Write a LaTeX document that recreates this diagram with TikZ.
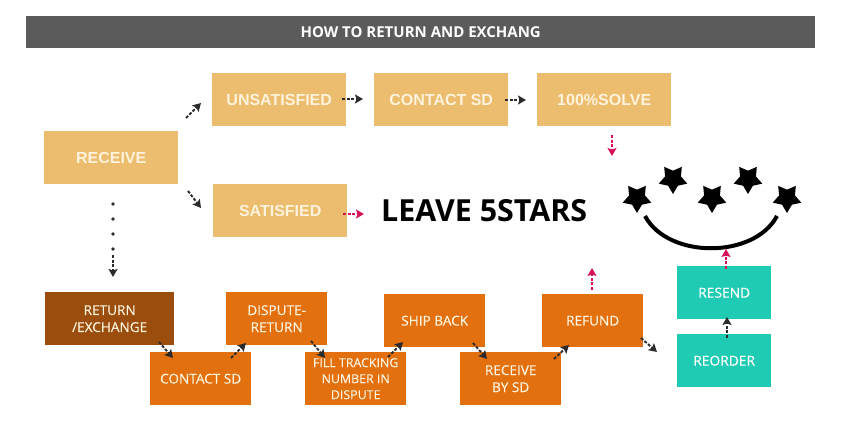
\documentclass[tikz,border=0pt]{standalone}
\usepackage{fontspec}
\setmainfont{Liberation Sans}
\newfontfamily\osans{Open Sans}
\newfontfamily\osansm[FakeBold=0.25]{Open Sans}
\usetikzlibrary{arrows.meta,shapes.geometric}
\definecolor{sand}{HTML}{ECBD6E}
\definecolor{brownbox}{HTML}{9A4D0C}
\definecolor{orangebox}{HTML}{E2700F}
\definecolor{tealbox}{HTML}{20CBB4}
\definecolor{headgrey}{HTML}{5B5B5B}
\definecolor{pinkarrow}{HTML}{D6105A}
\definecolor{darkarrow}{HTML}{2B2B2B}
\definecolor{creamtext}{HTML}{FFF3DC}
\tikzset{
  box/.style={rectangle,inner sep=0pt,align=center,anchor=north west},
  sandbox/.style={box,fill=sand,text=creamtext,font=\fontsize{16}{18}\selectfont\bfseries},
  lowbox/.style={box,text=creamtext,font=\osansm\fontsize{13.6}{17}\selectfont},
  orangenode/.style={lowbox,fill=orangebox},
  brownnode/.style={lowbox,fill=brownbox},
  tealnode/.style={lowbox,fill=tealbox,text=white,font=\osansm\fontsize{13.8}{16}\selectfont},
  flow/.style={line width=1.9pt,dash pattern=on 3pt off 1.6pt,-{Stealth[length=8pt,width=9pt,inset=1.5pt]}},
  darkflow/.style={flow,darkarrow},
  pinkflow/.style={flow,pinkarrow},
  starshape/.style={star,star points=5,star point ratio=1.8,fill=black,inner sep=0pt,minimum size=30pt,shape border rotate=180},
}
\newcommand{\bx}[8]{\node[#1,minimum width=#5pt-#3pt,minimum height=#6pt-#4pt] (#2) at (#3,#4) {#7};}
\begin{document}
\begin{tikzpicture}[x=1pt,y=-1pt]
\useasboundingbox (0,0) rectangle (867,441);
\node[box,fill=headgrey,text=white,minimum width=789pt,minimum height=32pt,font=\osans\fontsize{15}{17}\selectfont\bfseries] (title) at (26,16) {HOW TO RETURN AND EXCHANG};
\bx{sandbox}{receive}{44}{131}{178}{184}{RECEIVE}{}
\bx{sandbox}{unsat}{212}{73}{346}{126}{UNSATISFIED}{}
\bx{sandbox}{contact}{374}{73}{508}{126}{CONTACT SD}{}
\bx{sandbox}{solve}{537}{73}{671}{126}{100\%SOLVE}{}
\bx{sandbox}{sat}{213}{184}{347}{237}{SATISFIED}{}
\node[font=\osans\fontsize{30.4}{32}\selectfont\bfseries,anchor=west,inner sep=0pt] (leave) at (381,211) {LEAVE 5STARS};
\bx{brownnode}{ret}{45}{292}{174}{345}{RETURN\\/EXCHANGE}{}
\bx{orangenode}{csd}{150}{352}{251}{405}{CONTACT SD}{}
\bx{orangenode}{disp}{226}{292}{327}{345}{DISPUTE-\\RETURN}{}
\node[orangenode,font=\osansm\fontsize{12.4}{16}\selectfont,minimum width=101pt,minimum height=53pt] (fill) at (305,352) {FILL TRACKING\\NUMBER IN\\DISPUTE};
\bx{orangenode}{ship}{384}{294}{485}{347}{SHIP BACK}{}
\bx{orangenode}{recv}{460}{352}{561}{405}{RECEIVE\\BY SD}{}
\bx{orangenode}{refund}{542}{294}{643}{347}{REFUND}{}
\bx{tealnode}{resend}{677}{266}{771}{319}{RESEND}{}
\bx{tealnode}{reorder}{677}{334}{771}{387}{REORDER}{}
\node[starshape] (s1) at (637,198) {};
\node[starshape] (s2) at (673,179) {};
\node[starshape] (s3) at (712,198) {};
\node[starshape] (s4) at (748,179) {};
\node[starshape] (s5) at (787,198) {};
\coordinate (smileL) at (645,216);
\coordinate (smileR) at (777,216);
\draw[line width=4pt] (smileL) .. controls (668,259) and (754,259) .. (smileR);
\foreach \n/\a/\b/\c/\d/\s in {
 a/186/118/201/103/darkflow, b/342/99/363/99/darkflow, c/505/100/526/100/darkflow,
 d/188/191/201/208/darkflow, e/343/214/364/214/pinkflow, f/612/135/612/156/pinkflow,
 g/159/342/173/358/darkflow, h/231/358/246/343/darkflow, i/311/341/325/358/darkflow,
 j/388/357/403/342/darkflow, k/473/343/487/359/darkflow, l/554/359/569/345/darkflow,
 m/641/338/657/352/darkflow, n/727/338/727/317/darkflow, o/726/269/726/249/pinkflow,
 p/592/290/592/268/pinkflow}{
  \coordinate (\n0) at (\a,\b);
  \coordinate (\n1) at (\c,\d);
  \draw[\s] (\n0) -- (\n1);
}
\coordinate (dots0) at (113,204);
\coordinate (dots1) at (113,277);
\draw[darkarrow,dash pattern=on 0pt off 15pt,line cap=round,line width=3.6pt] (dots0) -- (113,250);
\draw[darkflow] (113,255) -- (dots1);
\end{tikzpicture}
\end{document}
